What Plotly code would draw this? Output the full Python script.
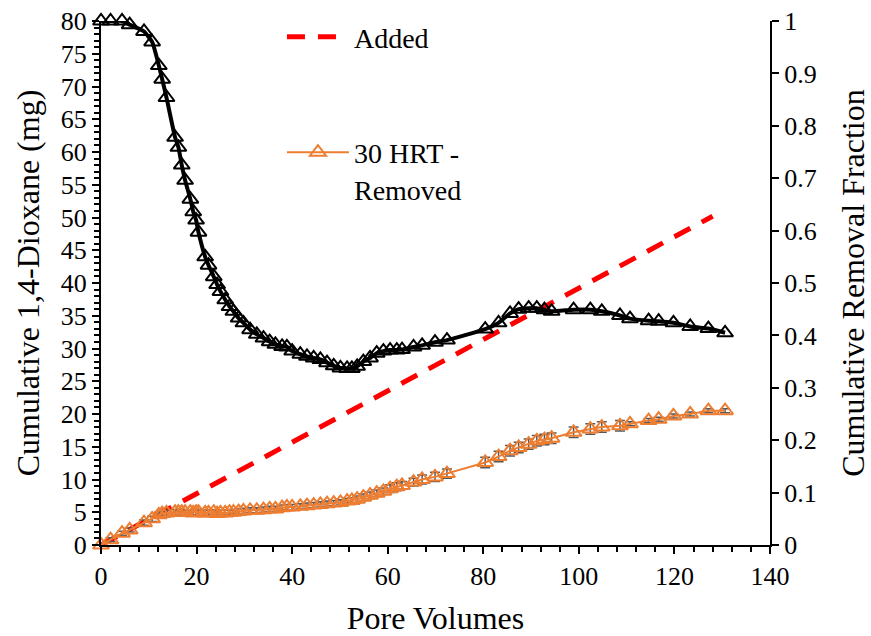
import plotly.graph_objects as go

# Pore volumes (shared sampling)
pore_volumes = [0, 2, 4.4, 6, 9, 10.7, 12.1, 12.8, 13.7, 15.5, 16.2, 16.9, 17.6, 18.7, 19.3, 19.9,
                20.4, 21.8, 22.5, 23.6, 24.3, 25, 26, 26.9, 27.7, 28.8, 29.8, 31.2, 32.6, 34, 35.3,
                36.5, 37.9, 38.9, 40, 41.7, 43.1, 44.5, 45.9, 47.3, 48.7, 50.1, 51.5, 52.5, 53.6,
                54.9, 56.3, 57.7, 59.1, 60.5, 61.9, 63, 65.4, 67.2, 69.9, 72.4, 80.4, 83.2, 85.6,
                87.4, 89.5, 91.2, 92.8, 94.3, 98.9, 102.4, 104.8, 108.6, 110.7, 114.6, 116.7,
                119.8, 123.3, 127.1, 130.6]

# Cumulative removal fraction (right axis)
removal_fraction = [1.0, 1.0, 1.0, 0.993, 0.98, 0.96, 0.915, 0.889, 0.854, 0.778, 0.759, 0.725,
                    0.696, 0.66, 0.636, 0.62, 0.597, 0.55, 0.534, 0.512, 0.497, 0.484, 0.468,
                    0.455, 0.446, 0.433, 0.424, 0.411, 0.402, 0.395, 0.388, 0.383, 0.379, 0.378,
                    0.37, 0.364, 0.36, 0.357, 0.354, 0.348, 0.342, 0.338, 0.337, 0.337, 0.341,
                    0.35, 0.357, 0.366, 0.37, 0.372, 0.372, 0.373, 0.378, 0.381, 0.387, 0.391,
                    0.412, 0.424, 0.442, 0.45, 0.452, 0.452, 0.449, 0.446, 0.449, 0.449, 0.446,
                    0.438, 0.432, 0.428, 0.427, 0.424, 0.417, 0.413, 0.405]

# 30 HRT - Removed (mg, left axis)
removed_mg = [0, 0.8, 1.8, 2.3, 3.4, 4.0, 4.6, 4.8, 4.9, 5.0, 5.0, 5.0, 5.0, 5.0, 4.9, 5.0,
              5.0, 4.9, 4.9, 5.0, 4.8, 4.9, 4.9, 5.0, 5.0, 5.1, 5.2, 5.3, 5.3, 5.4, 5.5,
              5.5, 5.7, 5.8, 5.8, 5.9, 6.0, 6.1, 6.2, 6.3, 6.4, 6.5, 6.7, 6.8, 7.0,
              7.3, 7.6, 7.9, 8.2, 8.6, 8.9, 9.1, 9.6, 10.0, 10.4, 10.9, 12.6, 13.5, 14.4,
              14.9, 15.4, 15.9, 16.1, 16.3, 17.2, 17.7, 18.0, 18.2, 18.5, 19.0, 19.2,
              19.7, 20.0, 20.5, 20.5]
removed_err = [0.2, 0.3, 0.3, 0.3, 0.4, 0.4, 0.4, 0.4, 0.4, 0.4, 0.4, 0.4, 0.4, 0.4, 0.4, 0.4,
               0.4, 0.4, 0.4, 0.4, 0.4, 0.4, 0.4, 0.4, 0.4, 0.4, 0.4, 0.4, 0.4, 0.4, 0.4,
               0.4, 0.4, 0.4, 0.4, 0.4, 0.4, 0.4, 0.4, 0.4, 0.4, 0.4, 0.4, 0.4, 0.5,
               0.5, 0.5, 0.5, 0.5, 0.6, 0.6, 0.6, 0.6, 0.7, 0.7, 0.7, 0.8, 0.8, 0.8,
               0.8, 0.8, 0.8, 0.8, 0.8, 0.8, 0.8, 0.8, 0.8, 0.3, 0.3, 0.3,
               0.3, 0.3, 0.3, 0.3]

# Added (mg, left axis)
added_x = [0, 128]
added_mg = [0, 50.2]

FONT = "Liberation Serif"

fig = go.Figure()

fig.add_trace(go.Scatter(
    x=added_x, y=added_mg, mode="lines", name="Added",
    line=dict(color="#FF0000", width=5, dash="18px,13px"),
    legendgroup="a", yaxis="y", cliponaxis=False))

fig.add_trace(go.Scatter(
    x=pore_volumes, y=removed_mg, mode="lines+markers", name="30 HRT -<br>Removed",
    line=dict(color="#ED7D31", width=2),
    marker=dict(symbol="triangle-up-open", size=14, color="#ED7D31", line=dict(width=2)),
    error_y=dict(type="data", array=removed_err, color="#595959", thickness=1.5, width=5),
    legendgroup="b", yaxis="y", cliponaxis=False))

fig.add_trace(go.Scatter(
    x=pore_volumes, y=removal_fraction, mode="lines+markers", name="Removal fraction",
    line=dict(color="#000000", width=4, shape="spline", smoothing=0.5),
    marker=dict(symbol="triangle-up-open", size=14, color="#000000", line=dict(width=2)),
    showlegend=False, yaxis="y2", cliponaxis=False))

axis_common = dict(
    showline=True, linecolor="black", linewidth=2, showgrid=False, zeroline=False,
    ticks="outside", tickcolor="black", tickwidth=2, ticklen=7,
    tickfont=dict(family=FONT, size=26, color="black"),
    title_font=dict(family=FONT, size=32, color="black"),
    automargin=False,
)

fig.update_layout(
    width=871, height=636,
    margin=dict(l=101, r=101, t=18, b=91),
    paper_bgcolor="white", plot_bgcolor="white",
    font=dict(family=FONT, size=24, color="black"),
    xaxis=dict(range=[0, 140], dtick=20, title=dict(text="Pore Volumes", standoff=22),
               minor=dict(dtick=4, ticks="outside", ticklen=5, tickcolor="black", tickwidth=2),
               **axis_common),
    yaxis=dict(range=[0, 80], dtick=5, title=dict(text="Cumulative 1,4-Dioxane (mg)", standoff=12),
               minor=dict(dtick=1, ticks="outside", ticklen=5, tickcolor="black", tickwidth=2),
               **axis_common),
    yaxis2=dict(range=[0, 1], dtick=0.1, overlaying="y", side="right",
                title=dict(text="Cumulative Removal Fraction", standoff=28),
                **axis_common),
    legend=dict(x=0.2705, y=1.017, xanchor="left", yanchor="top", bgcolor="rgba(0,0,0,0)",
                tracegroupgap=76, traceorder="grouped", valign="top", itemwidth=62,
                font=dict(family=FONT, size=28, color="black")),
    showlegend=True,
)

fig.write_html("out.html")
